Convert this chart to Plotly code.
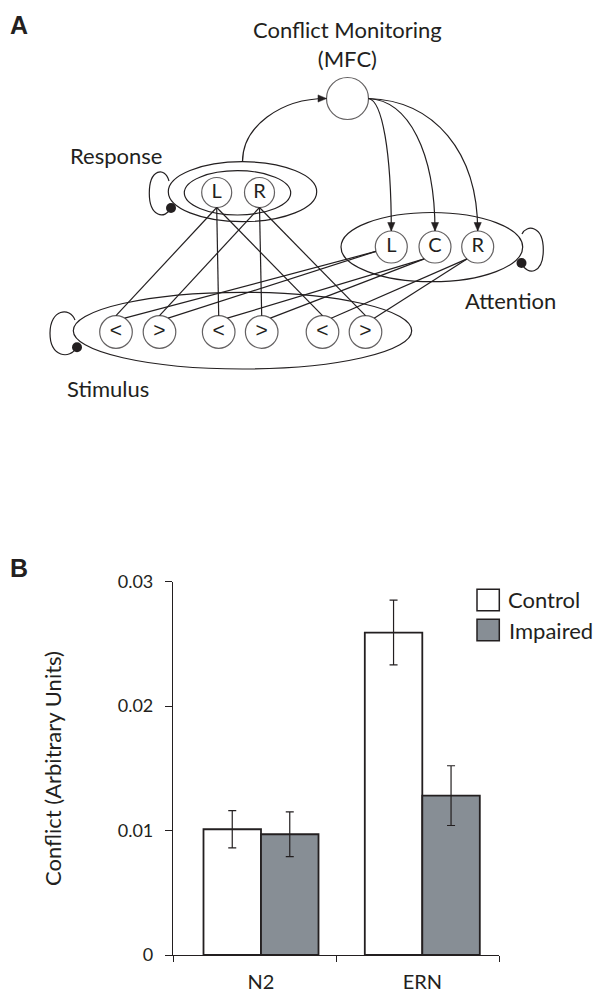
import numpy as np
import plotly.graph_objects as go

W, H = 600, 994
FONT = "Lato"
SYM_FONT = "Liberation Sans"
INK = "#231f20"
GRAY = "#878e95"
LW = 1.2

# ---------------- Panel B data ----------------
categories = ["N2", "ERN"]
series_names = ["Control", "Impaired"]
control_vals = [0.0101, 0.0259]
impaired_vals = [0.0097, 0.0128]
control_err = [0.0015, 0.0026]
impaired_err = [0.0018, 0.0024]
y_tickvals = [0, 0.01, 0.02, 0.03]
y_ticktext = ["0", "0.01", "0.02", "0.03"]
y_title = "Conflict (Arbitrary Units)"
panel_labels = ["A", "B"]

# ---------------- Panel A content ----------------
monitor_label = "Conflict Monitoring<br>(MFC)"
layer_labels = ["Response", "Attention", "Stimulus"]
response_units = ["L", "R"]
attention_units = ["L", "C", "R"]
stimulus_units = ["<", ">", "<", ">", "<", ">"]
response_targets = [[0, 2, 4], [1, 3, 5]]
attention_targets = [[0, 1], [2, 3], [4, 5]]

# ---------------- Diagram geometry (pixel frame of panel A) ----------------
MFC = (347.5, 98.5); R_MFC = 21
RESP_X = [216.7, 259.5]; RESP_Y = 192.5; R_RESP = 15
ATT_X = [391.3, 435.0, 477.7]; ATT_Y = 247.0; R_ATT = 16
STIM_X = [116.0, 159.5, 218.7, 261.7, 322.5, 365.5]; STIM_Y = 332.0; R_STIM = 16.3
ELLIPSES = [(168.3, 161.7, 316.7, 221.7), (184.3, 170.7, 290.7, 215.0),
            (341.0, 212.5, 522.7, 281.7), (73.3, 292.3, 411.7, 369.0)]
# loops: attach point, dot point, extreme x, top y, bottom y, side
LOOPS = [((169.0, 181.0), (171.0, 208.0), 149.3, 171.7, 215.0, -1),
         ((522.0, 234.0), (521.5, 263.0), 543.3, 228.0, 271.7, 1),
         ((75.0, 320.0), (77.0, 347.3), 50.0, 311.7, 355.0, -1)]
ATT_START_DEG = [164, 132, 132]
STIM_END_DEG = -58
LABEL_POS = {"Response": (115.8, 155.5), "Attention": (510.8, 300.8), "Stimulus": (107.5, 388.7)}
DIAG_H = 480.0

shapes = []
annotations = []


def P(p):
    return f"{p[0]:.2f},{p[1]:.2f}"


def add_line(p, q):
    shapes.append(dict(type="line", xref="x3", yref="y3", x0=p[0], y0=p[1], x1=q[0], y1=q[1],
                       line=dict(color=INK, width=LW), layer="below"))


def add_path(d, fill=None):
    s = dict(type="path", xref="x3", yref="y3", path=d, layer="below",
             line=dict(color=INK, width=LW if fill is None else 0.5))
    s["fillcolor"] = fill if fill else "rgba(0,0,0,0)"
    shapes.append(s)


def add_arrowhead(tip, d, length=8.5, half=3.6):
    d = np.array(d, float); d /= np.linalg.norm(d)
    n = np.array([-d[1], d[0]])
    t = np.array(tip, float)
    b = t - length * d
    add_path(f"M{P(t)} L{P(b + half * n)} L{P(b - half * n)} Z", fill=INK)


# ellipses
for (x0, y0, x1, y1) in ELLIPSES:
    shapes.append(dict(type="circle", xref="x3", yref="y3", x0=x0, y0=y0, x1=x1, y1=y1,
                       line=dict(color=INK, width=LW), fillcolor="rgba(0,0,0,0)", layer="below"))

# self loops with inhibitory dots
for (A, D, xe, ytop, ybot, side) in LOOPS:
    ym = (ytop + ybot) / 2
    c1 = (A[0] + side * 0.2 * abs(A[0] - xe), A[1] - 1.6 * (A[1] - ytop))
    c2 = (xe, ytop - 3)
    c3 = (xe, ybot + 2)
    c4 = (D[0] + side * 0.27 * abs(D[0] - xe), ybot + 5)
    add_path(f"M{P(A)} C{P(c1)} {P(c2)} {P((xe, ym))} C{P(c3)} {P(c4)} {P(D)}")
    shapes.append(dict(type="circle", xref="x3", yref="y3", x0=D[0] - 5, x1=D[0] + 5,
                       y0=D[1] - 5, y1=D[1] + 5, fillcolor=INK, line=dict(color=INK, width=0),
                       layer="above"))

# response -> stimulus connections
for i, targets in enumerate(response_targets):
    for j in targets:
        add_line((RESP_X[i], RESP_Y + R_RESP), (STIM_X[j], STIM_Y - R_STIM))

# attention -> stimulus connections
for i, targets in enumerate(attention_targets):
    a = np.deg2rad(ATT_START_DEG[i])
    start = (ATT_X[i] + R_ATT * np.cos(a), ATT_Y + R_ATT * np.sin(a))
    e = np.deg2rad(STIM_END_DEG)
    for j in targets:
        add_line(start, (STIM_X[j] + R_STIM * np.cos(e), STIM_Y + R_STIM * np.sin(e)))

# response layer -> MFC
S = ((ELLIPSES[0][0] + ELLIPSES[0][2]) / 2, ELLIPSES[0][1])
E = (MFC[0] - R_MFC, MFC[1])
p1 = (S[0], S[1] - 0.552 * (S[1] - E[1]))
p2 = (E[0] - 0.552 * (E[0] - S[0]), E[1])
add_path(f"M{P(S)} C{P(p1)} {P(p2)} {P(E)}")
add_arrowhead(E, (E[0] - p2[0], E[1] - p2[1]))

# MFC -> attention units
O = (MFC[0] + R_MFC, MFC[1])
for x in ATT_X:
    T = (x, ATT_Y - R_ATT)
    q1 = (O[0] + 0.6 * (x - O[0]), O[1] + 2)
    q2 = (x, O[1] + 0.4 * (T[1] - O[1]))
    add_path(f"M{P(O)} C{P(q1)} {P(q2)} {P(T)}")
    add_arrowhead(T, (0, 1))

# diagram text
annotations.append(dict(xref="x3", yref="y3", x=MFC[0], y=43.5, text=monitor_label, showarrow=False,
                        xanchor="center", yanchor="middle", font=dict(family=FONT, size=22, color=INK)))
for name in layer_labels:
    x, y = LABEL_POS[name]
    annotations.append(dict(xref="x3", yref="y3", x=x, y=y, text=name, showarrow=False,
                            xanchor="center", yanchor="middle", font=dict(family=FONT, size=22, color=INK)))

# panel letters
for lab, py in zip(panel_labels, [24.6, 567.5]):
    annotations.append(dict(xref="paper", yref="paper", x=8 / W, y=1 - py / H, text=f"<b>{lab}</b>",
                            showarrow=False, xanchor="left", yanchor="middle",
                            font=dict(family="Liberation Sans", size=25, color=INK)))

fig = go.Figure()

# nodes
esc = {"<": "&lt;", ">": "&gt;"}
n_r, n_a, n_s = len(RESP_X), len(ATT_X), len(STIM_X)
node_x = [MFC[0]] + RESP_X + ATT_X + STIM_X
node_y = [MFC[1]] + [RESP_Y] * n_r + [ATT_Y] * n_a + [STIM_Y] * n_s
node_d = [2 * R_MFC] + [2 * R_RESP] * n_r + [2 * R_ATT] * n_a + [2 * R_STIM] * n_s
node_t = [""] + response_units + attention_units + [esc.get(s, s) for s in stimulus_units]
node_fs = [20] * (1 + n_r + n_a) + [21] * n_s
node_ff = [FONT] * (1 + n_r + n_a) + [SYM_FONT] * n_s
fig.add_trace(go.Scatter(x=node_x, y=node_y, mode="markers+text", text=node_t,
                         textposition="middle center", xaxis="x3", yaxis="y3",
                         textfont=dict(family=node_ff, size=node_fs, color=INK),
                         marker=dict(size=node_d, color="white", line=dict(color=INK, width=LW)),
                         hoverinfo="skip", cliponaxis=False, showlegend=False))

# ---------------- Panel B bars ----------------
xpos = np.arange(len(categories))
BW = 0.3565
XMIN, XMAX = -0.5456, 1.4755
fills = ["white", GRAY]
for name, vals, errs, fill, off in zip(series_names, [control_vals, impaired_vals],
                                       [control_err, impaired_err], fills, [-BW, 0.0]):
    fig.add_trace(go.Bar(x=xpos, y=vals, name=name, width=BW, offset=off,
                         marker=dict(color=fill, line=dict(color=INK, width=1.8)),
                         error_y=dict(type="data", array=errs, color=INK, thickness=1.2, width=4),
                         hoverinfo="skip", showlegend=False))

# manual legend (boxes + labels)
LEG = [(477.0, 589.3, 499.3, 610.7, 505.5, 599.7), (477.0, 619.3, 499.3, 640.7, 507.0, 630.0)]
for name, fill, (x0, y0, x1, y1, tx, ty) in zip(series_names, fills, LEG):
    shapes.append(dict(type="rect", xref="paper", yref="paper", x0=x0 / W, x1=x1 / W,
                       y0=1 - y1 / H, y1=1 - y0 / H, fillcolor=fill, line=dict(color=INK, width=1.5)))
    annotations.append(dict(xref="paper", yref="paper", x=tx / W, y=1 - ty / H, text=name,
                            showarrow=False, xanchor="left", yanchor="middle",
                            font=dict(family=FONT, size=22, color=INK)))

# y-axis title
annotations.append(dict(xref="paper", yref="paper", x=52 / W, y=1 - 769 / H, text=y_title,
                        textangle=-90, showarrow=False, xanchor="center", yanchor="middle",
                        font=dict(family=FONT, size=22, color=INK)))

fig.update_layout(
    template="none",
    width=W, height=H, margin=dict(l=0, r=0, t=0, b=0, pad=0, autoexpand=False),
    paper_bgcolor="white", plot_bgcolor="rgba(0,0,0,0)",
    showlegend=False, barmode="overlay",
    shapes=shapes, annotations=annotations,
    xaxis=dict(domain=[173 / W, 499 / W], anchor="y", type="linear", range=[XMIN, XMAX],
               automargin=False,
               tickvals=list(xpos), ticktext=categories, ticks="", showgrid=False, zeroline=False,
               showline=True, linecolor=INK, linewidth=1.2, ticklabelstandoff=9,
               tickfont=dict(family=FONT, size=20, color=INK),
               minor=dict(tickvals=[XMIN, (XMIN + XMAX) / 2, XMAX], ticks="outside", ticklen=6,
                          tickwidth=1.2, tickcolor=INK, showgrid=False),
               fixedrange=True),
    yaxis=dict(domain=[1 - 955 / H, 1 - 581.5 / H], anchor="x", range=[0, 0.03], automargin=False,
               tickvals=y_tickvals, ticktext=y_ticktext, ticks="outside", ticklen=7, tickwidth=1.2,
               tickcolor=INK, showline=True, linecolor=INK, linewidth=1.2, showgrid=False,
               zeroline=False, ticklabelstandoff=8,
               tickfont=dict(family=FONT, size=18, color=INK), fixedrange=True),
    xaxis3=dict(domain=[0, 1], range=[0, W], anchor="y3", visible=False, fixedrange=True,
                automargin=False),
    yaxis3=dict(domain=[1 - DIAG_H / H, 1], range=[DIAG_H, 0], anchor="x3", visible=False,
                fixedrange=True, automargin=False),
)

fig.write_html("out.html", config={"displayModeBar": False},
               post_script="document.body.style.margin='0';document.body.style.padding='0';"
                           "document.body.style.overflow='hidden';")
